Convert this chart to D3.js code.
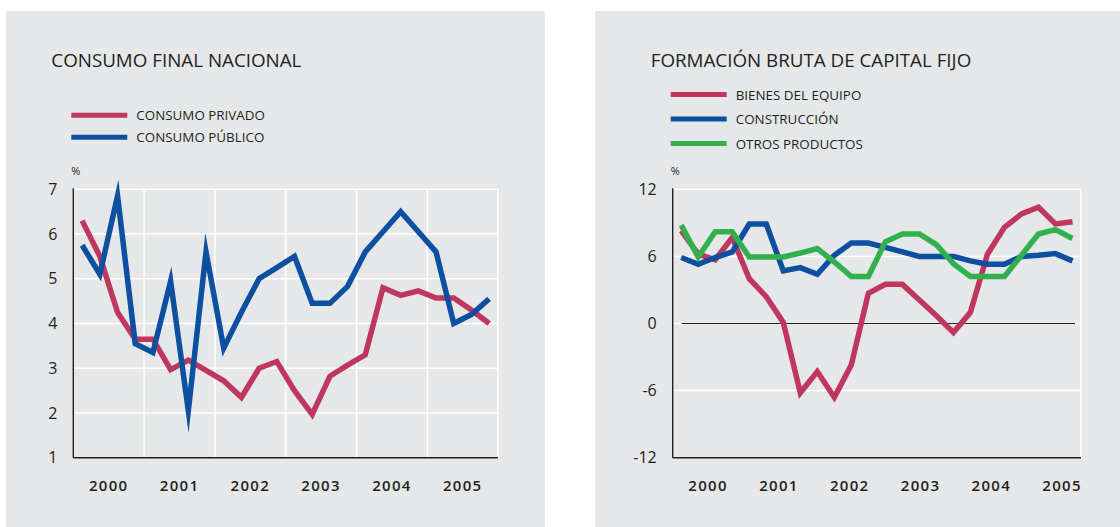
<!DOCTYPE html>
<html>
<head>
<meta charset="utf-8">
<style>
body { margin:0; background:#fff; }
svg { display:block; font-family:'Open Sans', sans-serif; }
</style>
</head>
<body>
<div id="chart"></div>
<script src="https://cdnjs.cloudflare.com/ajax/libs/d3/7.8.5/d3.min.js"></script>
<script>

// ---- data (variación anual, %) ----
var years = ["2000", "2001", "2002", "2003", "2004", "2005"];
var quarters = ["2000T1","2000T2","2000T3","2000T4","2001T1","2001T2","2001T3","2001T4",
                "2002T1","2002T2","2002T3","2002T4","2003T1","2003T2","2003T3","2003T4",
                "2004T1","2004T2","2004T3","2004T4","2005T1","2005T2","2005T3","2005T4"];

var consumoPrivado = [6.3, 5.5, 4.25, 3.65, 3.65, 2.97, 3.18, 2.95, 2.72, 2.35, 3.0, 3.15,
                      2.5, 1.97, 2.82, 3.07, 3.3, 4.8, 4.63, 4.73, 4.57, 4.57, 4.3, 4.0];
var consumoPublico = [5.75, 5.1, 6.85, 3.55, 3.35, 4.95, 2.05, 5.6, 3.45, 4.25, 5.0, 5.25,
                      5.5, 4.45, 4.45, 4.83, 5.6, 6.05, 6.5, 6.05, 5.6, 4.0, 4.2, 4.55];

var bienesEquipo = [8.3, 6.2, 5.7, 7.7, 4.0, 2.4, 0.1, -6.2, -4.3, -6.6, -3.7, 2.7,
                    3.5, 3.5, 2.1, 0.7, -0.8, 1.0, 6.2, 8.6, 9.8, 10.4, 8.9, 9.1];
var construccion = [5.9, 5.3, 5.9, 6.4, 8.9, 8.9, 4.7, 5.0, 4.4, 6.1, 7.2, 7.2,
                    6.8, 6.4, 6.0, 6.0, 6.0, 5.6, 5.3, 5.3, 6.0, 6.1, 6.25, 5.6];
var otrosProductos = [8.8, 5.95, 8.2, 8.2, 5.95, 5.95, 5.95, 6.3, 6.7, 5.5, 4.2, 4.2,
                      7.3, 8.0, 8.0, 7.05, 5.35, 4.2, 4.2, 4.2, 6.1, 8.0, 8.4, 7.6];

var ticksConsumo = [1, 2, 3, 4, 5, 6, 7];
var ticksCapital = [-12, -6, 0, 6, 12];

var rojo = "#bf365e", azul = "#0e50a0", verde = "#33b04e";
var ink = "#231f20", fondo = "#e6e7e9";

var svg = d3.select('#chart')
  .append('svg')
    .attr('width', 1120)
    .attr('height', 527);

var plotTop = 189.3, plotBottom = 457.7, yearStep = 70.8;

function drawPanel(p) {
  var g = svg.append("g");

  g.append("rect")
    .attr("x", p.bgX).attr("y", 11)
    .attr("width", p.bgW).attr("height", 527 - 11)
    .attr("fill", fondo);

  g.append("text")
    .attr("x", p.left - 22)
    .attr("y", 66.5)
    .attr("fill", ink)
    .style("font-size", "18.8px")
    .text(p.title);

  // legend
  var leg = g.selectAll(".leg")
    .data(p.series)
    .enter().append("g")
      .attr("transform", function(d, i) { return "translate(" + (p.left - 2) + "," + (p.legY + i * p.legStep) + ")"; });
  leg.append("line")
    .attr("x1", 0).attr("x2", 56)
    .attr("stroke", function(d) { return d.color; })
    .attr("stroke-width", 5);
  leg.append("text")
    .attr("x", 65).attr("y", 5)
    .attr("fill", ink)
    .style("font-size", "13.4px")
    .text(function(d) { return d.name; });

  g.append("text")
    .attr("x", p.left - 2).attr("y", 175)
    .attr("fill", ink)
    .style("font-size", "11px")
    .text("%");

  var x = d3.scalePoint().domain(quarters).range([p.left, p.right]).padding(0.5);
  var xYear = d3.scaleBand().domain(years).range([p.left, p.left + 6 * yearStep]);
  var y = d3.scaleLinear().domain(d3.extent(p.ticks)).range([plotBottom, plotTop]);

  // grid
  g.selectAll(".hgrid")
    .data(p.ticks.slice(1))
    .enter().append("line")
      .attr("x1", p.left).attr("x2", p.right)
      .attr("y1", function(d) { return y(d); })
      .attr("y2", function(d) { return y(d); })
      .attr("stroke", "#fff").attr("stroke-width", 1.5);

  var vlines = p.yearGrid ? years.slice(1).map(function(d) { return xYear(d); }) : [];
  vlines.push(p.right);
  g.selectAll(".vgrid")
    .data(vlines)
    .enter().append("line")
      .attr("x1", function(d) { return d; }).attr("x2", function(d) { return d; })
      .attr("y1", plotTop).attr("y2", plotBottom)
      .attr("stroke", "#fff").attr("stroke-width", 1.5);

  if (p.zeroLine) {
    g.append("line")
      .attr("x1", p.left + 9).attr("x2", p.right - 6)
      .attr("y1", y(0)).attr("y2", y(0))
      .attr("stroke", ink).attr("stroke-width", 1.2);
  }

  // axes
  g.append("line")
    .attr("x1", p.left).attr("x2", p.left)
    .attr("y1", plotTop - 1).attr("y2", plotBottom)
    .attr("stroke", ink).attr("stroke-width", 1.4);
  g.append("line")
    .attr("x1", p.left).attr("x2", p.right)
    .attr("y1", plotBottom).attr("y2", plotBottom)
    .attr("stroke", ink).attr("stroke-width", 1.4);

  var ya = g.append("g")
    .attr("transform", "translate(" + p.left + ",0)")
    .call(d3.axisLeft(y).tickValues(p.ticks).tickFormat(function(d) { return String(d); }).tickSize(0).tickPadding(16));
  ya.select(".domain").remove();
  ya.selectAll("text")
    .attr("fill", ink)
    .style("font-size", "16px")
    .style("font-family", "'Open Sans', sans-serif");

  var xa = g.append("g")
    .attr("transform", "translate(0," + plotBottom + ")")
    .call(d3.axisBottom(xYear).tickSize(0).tickPadding(23));
  xa.select(".domain").remove();
  xa.selectAll("text")
    .attr("fill", ink)
    .style("font-size", "15px")
    .style("font-weight", "600")
    .style("letter-spacing", "1.3px")
    .style("font-family", "'Open Sans', sans-serif");

  var line = d3.line()
    .x(function(d, i) { return x(quarters[i]); })
    .y(function(d) { return y(d); });

  g.selectAll(".serie")
    .data(p.series)
    .enter().append("path")
      .attr("d", function(d) { return line(d.values); })
      .attr("fill", "none")
      .attr("stroke", function(d) { return d.color; })
      .attr("stroke-width", 5.5)
      .attr("stroke-linejoin", "miter")
      .attr("stroke-miterlimit", 9);
}

drawPanel({
  bgX: 6, bgW: 539,
  left: 73.3, right: 498,
  title: "CONSUMO FINAL NACIONAL",
  legY: 115.3, legStep: 22,
  ticks: ticksConsumo,
  yearGrid: true, zeroLine: false,
  series: [
    {name: "CONSUMO PRIVADO", color: rojo, values: consumoPrivado},
    {name: "CONSUMO PÚBLICO", color: azul, values: consumoPublico}
  ]
});

drawPanel({
  bgX: 595, bgW: 525,
  left: 672.7, right: 1081,
  title: "FORMACIÓN BRUTA DE CAPITAL FIJO",
  legY: 94.5, legStep: 24.5,
  ticks: ticksCapital,
  yearGrid: false, zeroLine: true,
  series: [
    {name: "BIENES DEL EQUIPO", color: rojo, values: bienesEquipo},
    {name: "CONSTRUCCIÓN", color: azul, values: construccion},
    {name: "OTROS PRODUCTOS", color: verde, values: otrosProductos}
  ]
});

</script>
</body>
</html>
